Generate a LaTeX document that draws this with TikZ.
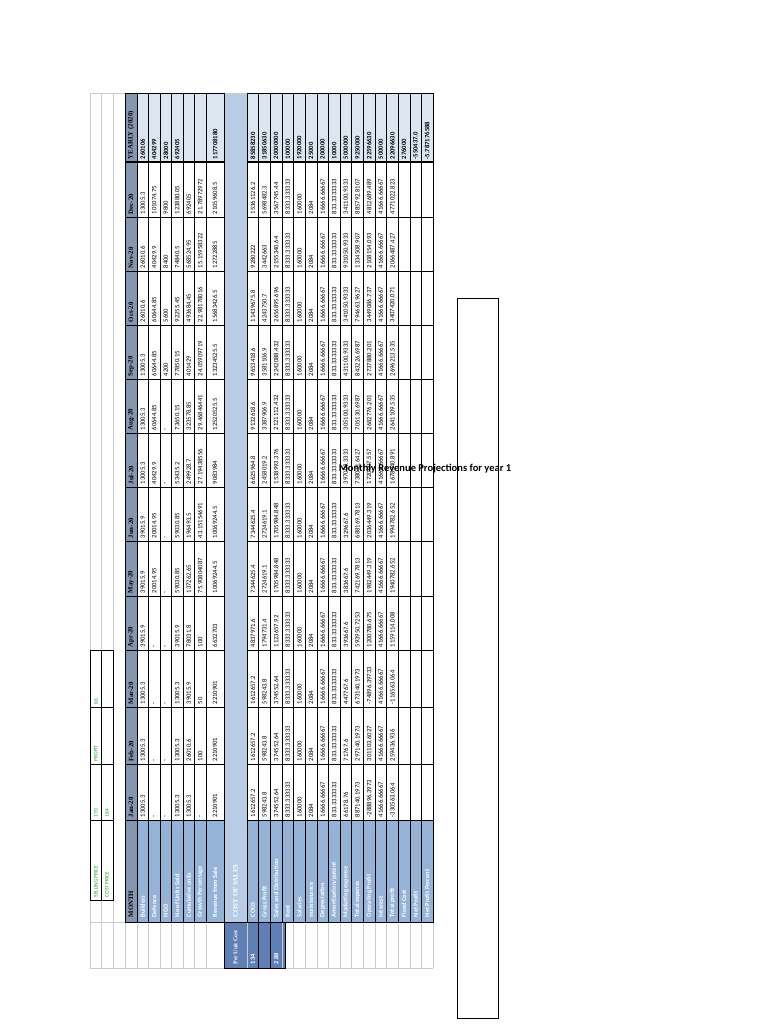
\documentclass[tikz,border=0pt]{standalone}
\usepackage{fontspec}
\setmainfont{Carlito}
\newfontfamily\hdfont{Liberation Serif}
\definecolor{hdblue}{HTML}{8496B0}
\definecolor{lblblue}{HTML}{95B3D7}
\definecolor{cosblue}{HTML}{B8CCE4}
\definecolor{yrblue}{HTML}{DCE6F1}
\definecolor{pucblue}{HTML}{5F7FB5}
\definecolor{pricegreen}{HTML}{1E9E1E}
\tikzset{
  cell/.style={rotate=90,anchor=west,inner sep=0.6pt,font=\fontsize{6.6}{7}\selectfont},
  lbl/.style={cell,text=white,font=\fontsize{6.4}{7}\selectfont\bfseries},
  hdr/.style={cell,font=\fontsize{6.8}{7}\hdfont\bfseries},
  price/.style={cell,text=pricegreen,font=\fontsize{5.4}{6}\selectfont}
}
\begin{document}
\begin{tikzpicture}[x=1pt,y=-1pt]
  \useasboundingbox (0,0) rectangle (768,1024);
  % row centres (spreadsheet rows run across the page)
  \def\rowc{{142.75,154.25,165.75,177.25,188.75,200.25,215,252.8,264.4,276.1,287.7,299.3,310.9,322.6,334.2,345.8,357.4,369.1,380.7,392.3,403.9,415.6,427.2}}

  % fills
  \fill[lblblue] (137,820) rectangle (224,922);
  \fill[lblblue] (247,820) rectangle (433,922);
  \fill[cosblue] (224,93) rectangle (247,922);
  \fill[hdblue] (125,93) rectangle (137,922);
  \fill[yrblue] (137,93) rectangle (224,162);
  \fill[yrblue] (247,93) rectangle (433,162);
  \fill[pucblue] (224,922) rectangle (285,968);

  % faint grid
  \foreach \x in {90,101,113,125,137,148.5,160,171.5,183,194.5,206,224,247,258.6,270.3,281.9,293.5,305.1,316.8,328.4,340,351.6,363.3,374.9,386.5,398.1,409.8,421.4,433}
    \draw[gray!40,line width=0.3pt] (\x,93) -- (\x,968);
  \draw[gray!40,line width=0.3pt] (90,93) -- (90,968) (90,968) -- (433,968) (90,93) -- (433,93);
  \draw[gray!40,line width=0.3pt] (90,922) -- (433,922);

  % table grid
  \foreach \x in {137,148.5,160,171.5,183,194.5,206,258.6,270.3,281.9,293.5,305.1,316.8,328.4,340,351.6,363.3,374.9,386.5,398.1,409.8,421.4}
    \draw[black,line width=0.4pt] (\x,93) -- (\x,922);
  \foreach \y in {93,162,217,271,325,379,433,487,541,596,650,707,764,820,922}
    \draw[black,line width=0.5pt] (125,\y) -- (224,\y) (247,\y) -- (433,\y);
  \draw[black,line width=0.9pt] (125,93) rectangle (224,922) (247,93) rectangle (433,922);
  \foreach \y in {162,271,379,487,596,707,820}
    \draw[black,line width=1pt] (125,\y) -- (224,\y) (247,\y) -- (433,\y);
  \draw[black,line width=0.5pt] (224,922) rectangle (285,968);
  \draw[black,line width=0.4pt] (247,922) -- (285,922) (258.6,922) -- (258.6,968) (270.3,922) -- (270.3,968);

  % price box
  \draw[black,line width=0.5pt] (90,650) rectangle (113,900);
  \draw[black,line width=0.4pt] (101,650) -- (101,900);
  \foreach \y in {707,764,820} \draw[black,line width=0.4pt] (90,\y) -- (113,\y);
  \node[price] (sp) at (96,898) {SELLING PRICE};
  \node[price] (cp) at (107,898) {COST PRICE};
  \node[price] (spv) at (96,818) {170};
  \node[price] (cpv) at (107,818) {184};
  \node[price] (pf) at (96,762) {PROFIT};
  \node[price] (pfv) at (96,705) {86};

  % row labels
  \node[hdr] (month) at (131,918) {MONTH};
  \foreach \t [count=\i] in {Builders,Defence,NGO,No of Units Sold,Cumulative units,Growth Percentage,Revenue from Sale,
      COGS,Gross Profit,Sales and Distribution,Rent,Salaries,maintenance,Depreciation,Amortization/patent,Marketing expense,
      Total expense,Operating Profit,Interest,Total profit,Fixed Cost,Net Profit,Net Profit Percent}{
    \pgfmathsetmacro\xc{\rowc[\i-1]}
    \node[lbl] (lab\i) at (\xc,918) {\t};
  }
  \node[lbl,font=\fontsize{6.8}{7}\hdfont\bfseries] (cos) at (235.5,918) {COST OF SALES};
  \node[lbl,font=\fontsize{5.8}{6}\hdfont\bfseries] (puc) at (235.5,965) {Per Unit Cost};
  \node[lbl] (puca) at (252.8,965) {134};
  \node[lbl] (pucb) at (276.1,965) {2.88};

  % month columns: header / bottom edge / values
  \foreach \m/\yb/\vals in {
    Jan-20/818/{13005.3,-,-,13005.3,13005.3,-,2210901,1612657.2,598243.8,374552.64,8333.333333,160000,2084,16666.66667,833.3333333,66178.76,887140.1973,-288896.3973,41666.66667,-330563.064,,,},
    Feb-20/762/{13005.3,-,-,13005.3,26010.6,100,2210901,1612657.2,598243.8,374552.64,8333.333333,160000,2084,16666.66667,833.3333333,71767.6,297140.1973,301103.6027,41666.66667,259436.936,,,},
    Mar-20/705/{13005.3,-,-,13005.3,39015.9,50,2210901,1612657.2,598243.8,374552.64,8333.333333,160000,2084,16666.66667,833.3333333,447767.6,673140.1973,-74896.39733,41666.66667,-116563.064,,,},
    Apr-20/648/{39015.9,-,-,39015.9,78031.8,100,6632703,4837971.6,1794731.4,1123657.92,8333.333333,160000,2084,16666.66667,833.3333333,393667.6,593950.7253,1200780.675,41666.66667,1159114.008,,,},
    May-20/594/{39015.9,20014.95,-,59030.85,137262.65,75.90804087,10069244.5,7344625.4,2724619.1,1705984.848,8333.333333,160000,2084,16666.66667,833.3333333,383667.6,742169.7813,1982449.319,41666.66667,1940782.652,,,},
    Jun-20/539/{39015.9,20014.95,-,59030.85,196493.5,43.15154691,10069244.5,7344625.4,2724619.1,1705984.848,8333.333333,160000,2084,16666.66667,833.3333333,329667.6,688169.7813,2036449.319,41666.66667,1994782.652,,,},
    Jul-20/485/{13005.3,40429.9,-,53435.2,249928.7,27.19438556,9083984,6625964.8,2458019.2,1538993.376,8333.333333,160000,2084,16666.66667,833.3333333,397009.3333,738011.6427,1720007.557,41666.66667,1678340.891,,,},
    Aug-20/431/{13005.3,60644.85,-,73650.15,323578.85,29.46846441,12520525.5,9132618.6,3387906.9,2121112.432,8333.333333,160000,2084,16666.66667,833.3333333,305100.9333,705130.6987,2682776.201,41666.66667,2641109.535,,,},
    Sep-20/377/{13005.3,60644.85,4200,77850.15,401429,24.05909719,13234525.5,9653418.6,3581106.9,2242088.432,8333.333333,160000,2084,16666.66667,833.3333333,431100.9333,843226.6987,2737880.201,41666.66667,2696213.535,,,},
    Oct-20/323/{26010.6,60644.85,5600,92255.45,493684.45,22.98178016,15683426.5,11439675.8,4243750.7,2656895.696,8333.333333,160000,2084,16666.66667,833.3333333,341050.9333,794663.9627,3449086.737,41666.66667,3407420.071,,,},
    Nov-20/269/{26010.6,40429.9,8400,74840.5,568524.95,15.15958322,12722885,9280222,3442663,2155340.64,8333.333333,160000,2084,16666.66667,833.3333333,931050.9333,1334508.907,2108154.093,41666.66667,2066487.427,,,},
    Dec-20/215/{13005.3,101074.75,9800,123880.05,692405,21.78972972,21059608.5,15361126.2,5698482.3,3567745.44,8333.333333,160000,2084,16666.66667,833.3333333,341100.9333,885792.8107,4812689.489,41666.66667,4771022.823,,,}}{
    \node[hdr] (h\m) at (131,\yb) {\m};
    \foreach \v [count=\i] in \vals {
      \pgfmathsetmacro\xc{\rowc[\i-1]}
      \node[cell] at (\xc,\yb) {\v};
    }
  }
  % yearly column
  \node[hdr] (hyear) at (131,160) {YEARLY (2020)};
  \foreach \v [count=\i] in {260106,404299,28000,692405,,,117708180,85858230,31850630,20000000,100000,1920000,25000,200000,10000,5000000,9250000,22596630,500000,22096630,276000,-550437.0,-5.787176588}{
    \pgfmathsetmacro\xc{\rowc[\i-1]}
    \node[cell,font=\fontsize{6.6}{7}\selectfont\bfseries] at (\xc,160) {\v};
  }

  % chart frame and title
  \draw[black,line width=0.6pt] (457,298) rectangle (498,1018);
  \node[font=\fontsize{10.5}{12}\selectfont\bfseries] (title) at (425,469) {Monthly Revenue Projections for year 1};
\end{tikzpicture}
\end{document}
